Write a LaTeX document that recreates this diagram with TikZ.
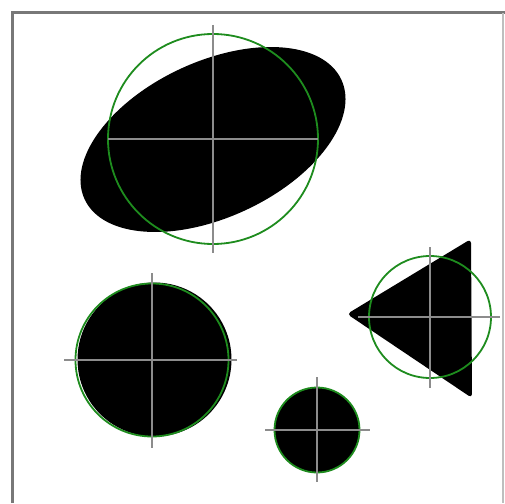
\documentclass[tikz,border=0pt]{standalone}
\begin{document}
\begin{tikzpicture}[x=1pt,y=-1pt,
  blob/.style={fill=black},
  fit circle/.style={draw={rgb,255:red,30;green,140;blue,30},line width=1.8pt},
  crosshair/.style={draw={rgb,255:red,140;green,140;blue,140},line width=2pt},
  frame dark/.style={draw={rgb,255:red,120;green,120;blue,120},line width=2.5pt},
  frame light/.style={draw={rgb,255:red,190;green,190;blue,190},line width=2pt}]
\useasboundingbox (0,0) rectangle (505,503);
\fill[white] (0,0) rectangle (505,503);
% frame
\draw[frame dark] (12.5,503) -- (12.5,12.5) -- (505,12.5);
\draw[frame light] (503,13.5) -- (503,503);
% big ellipse
\fill[blob] (213,139.5) ellipse [x radius=141.6, y radius=77.8, rotate=25];
\draw[fit circle] (213,139) circle [radius=105];
\draw[crosshair] (213,25) -- (213,253);
\draw[crosshair] (108,139) -- (318,139);
% left disk
\fill[blob] (154.5,359.5) circle [radius=77];
\draw[fit circle] (152,360) circle [radius=76.5];
\draw[crosshair] (152,273) -- (152,448);
\draw[crosshair] (64,360) -- (237,360);
% small disk
\fill[blob] (317,430) circle [radius=42.5];
\draw[fit circle] (317,430) circle [radius=42.5];
\draw[crosshair] (317,377) -- (317,482);
\draw[crosshair] (265,430) -- (370,430);
% triangle
\fill[blob,rounded corners=4pt] (347,314) -- (471,239) -- (472,398) -- cycle;
\draw[fit circle] (430,317) circle [radius=61];
\draw[crosshair] (430,247) -- (430,388);
\draw[crosshair] (358,317) -- (500,317);
\end{tikzpicture}
\end{document}
